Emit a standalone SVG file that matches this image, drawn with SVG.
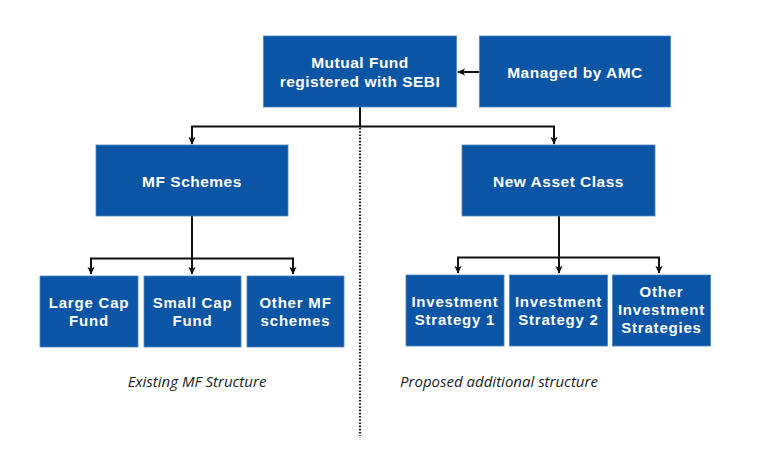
<svg xmlns="http://www.w3.org/2000/svg" width="761" height="452" viewBox="0 0 761 452">
<defs>
<marker id="ah" viewBox="0 0 10 10" refX="9" refY="5" markerWidth="8" markerHeight="8" orient="auto" markerUnits="userSpaceOnUse">
<path d="M0,0.5 L10,5 L0,9.5 L2.5,5 Z" fill="#111"/>
</marker>
<style>
.box{fill:#0a55a6;stroke:#4d86c4;stroke-width:0.8}
.t{font-family:"Liberation Sans",Arial,sans-serif;font-weight:700;fill:#fff;text-anchor:middle}
.t15{font-size:15.5px;letter-spacing:0.5px}
.t14{font-size:15px;letter-spacing:0.8px}
.c{fill:none;stroke:#111;stroke-width:2}
.lab{font-family:"Open Sans","Noto Sans",sans-serif;font-style:italic;font-size:15px;fill:#222;text-anchor:middle}
</style>
</defs>
<rect width="761" height="452" fill="#fff"/>
<g id="connectors">
<line x1="360" y1="128" x2="360" y2="436" stroke="#222" stroke-width="2.2" stroke-dasharray="1.6,1.6"/>
<path class="c" d="M479,72 H458" marker-end="url(#ah)"/>
<path class="c" d="M360,107 V126.5 H192 V144" marker-end="url(#ah)"/>
<path class="c" d="M360,126.5 H554 V144" marker-end="url(#ah)"/>
<path class="c" d="M192,216 V274" marker-end="url(#ah)"/>
<path class="c" d="M192,258.5 H91 V274" marker-end="url(#ah)"/>
<path class="c" d="M192,258.5 H293 V274" marker-end="url(#ah)"/>
<path class="c" d="M559,216 V273" marker-end="url(#ah)"/>
<path class="c" d="M559,257.5 H458 V273" marker-end="url(#ah)"/>
<path class="c" d="M559,257.5 H659 V273" marker-end="url(#ah)"/>
</g>
<g id="mutual-fund">
<rect class="box" x="263.5" y="36" width="193" height="71"/>
<text class="t t15" x="360" y="68">Mutual Fund</text>
<text class="t t15" x="360" y="87">registered with SEBI</text>
</g>
<g id="amc">
<rect class="box" x="479.5" y="36" width="191" height="71"/>
<text class="t t15" x="575" y="77.5">Managed by AMC</text>
</g>
<g id="mf-schemes">
<rect class="box" x="96" y="145" width="192" height="71"/>
<text class="t t15" x="192" y="186.5">MF Schemes</text>
</g>
<g id="new-asset-class">
<rect class="box" x="462" y="145" width="193" height="71"/>
<text class="t t15" x="558.5" y="186.5">New Asset Class</text>
</g>
<g id="large-cap">
<rect class="box" x="40" y="276" width="98" height="71"/>
<text class="t t14" x="89" y="308">Large Cap</text>
<text class="t t14" x="89" y="326">Fund</text>
</g>
<g id="small-cap">
<rect class="box" x="144" y="276" width="97" height="71"/>
<text class="t t14" x="192.5" y="308">Small Cap</text>
<text class="t t14" x="192.5" y="326">Fund</text>
</g>
<g id="other-mf">
<rect class="box" x="247" y="276" width="97" height="71"/>
<text class="t t14" x="295.5" y="308">Other MF</text>
<text class="t t14" x="295.5" y="326">schemes</text>
</g>
<g id="inv-1">
<rect class="box" x="406" y="275" width="98" height="71"/>
<text class="t t14" x="455" y="307">Investment</text>
<text class="t t14" x="455" y="325">Strategy 1</text>
</g>
<g id="inv-2">
<rect class="box" x="509.5" y="275" width="98" height="71"/>
<text class="t t14" x="558.5" y="307">Investment</text>
<text class="t t14" x="558.5" y="325">Strategy 2</text>
</g>
<g id="inv-other">
<rect class="box" x="612.5" y="275" width="98" height="71"/>
<text class="t t14" x="661.5" y="297">Other</text>
<text class="t t14" x="661.5" y="315">Investment</text>
<text class="t t14" x="661.5" y="333">Strategies</text>
</g>
<text class="lab" x="197" y="387">Existing MF Structure</text>
<text class="lab" x="499" y="387">Proposed additional structure</text>
</svg>
